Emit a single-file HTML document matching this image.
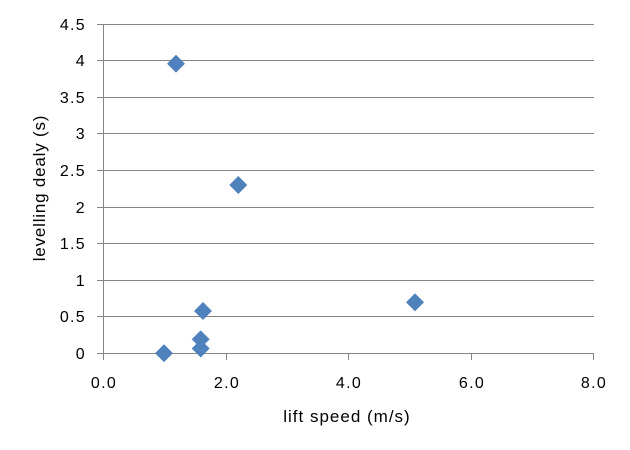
<!DOCTYPE html>
<html>
<head>
<meta charset="utf-8">
<style>
  html,body{margin:0;padding:0;background:#fff;}
  svg{display:block;}
  text{font-family:"Liberation Sans",Arial,sans-serif;fill:#000;}
</style>
</head>
<body>
<svg width="630" height="450" viewBox="0 0 630 450" xmlns="http://www.w3.org/2000/svg">
  <rect width="630" height="450" fill="#fff"/>
  <g stroke="#868686" stroke-width="1" fill="none">
    <line x1="97" y1="24.5" x2="594" y2="24.5"/>
    <line x1="97" y1="60.5" x2="594" y2="60.5"/>
    <line x1="97" y1="97.5" x2="594" y2="97.5"/>
    <line x1="97" y1="133.5" x2="594" y2="133.5"/>
    <line x1="97" y1="170.5" x2="594" y2="170.5"/>
    <line x1="97" y1="207.5" x2="594" y2="207.5"/>
    <line x1="97" y1="243.5" x2="594" y2="243.5"/>
    <line x1="97" y1="280.5" x2="594" y2="280.5"/>
    <line x1="97" y1="316.5" x2="594" y2="316.5"/>
    <line x1="97" y1="353.5" x2="594" y2="353.5"/>
    <line x1="103.5" y1="24" x2="103.5" y2="360"/>
    <line x1="226.5" y1="353" x2="226.5" y2="360"/>
    <line x1="348.5" y1="353" x2="348.5" y2="360"/>
    <line x1="471.5" y1="353" x2="471.5" y2="360"/>
    <line x1="593.5" y1="353" x2="593.5" y2="360"/>
  </g>

  <g font-size="16" text-anchor="end" letter-spacing="1.3">
    <text x="86" y="30">4.5</text>
    <text x="86" y="66">4</text>
    <text x="86" y="103">3.5</text>
    <text x="86" y="139">3</text>
    <text x="86" y="176">2.5</text>
    <text x="86" y="213">2</text>
    <text x="86" y="249">1.5</text>
    <text x="86" y="286">1</text>
    <text x="86" y="322">0.5</text>
    <text x="86" y="359">0</text>
  </g>

  <g font-size="16" text-anchor="middle" letter-spacing="1.3">
    <text x="104" y="388">0.0</text>
    <text x="227" y="388">2.0</text>
    <text x="349" y="388">4.0</text>
    <text x="472" y="388">6.0</text>
    <text x="594" y="388">8.0</text>
  </g>

  <text x="347" y="422" font-size="17" text-anchor="middle" letter-spacing="1">lift speed (m/s)</text>
  <text transform="translate(45,188) rotate(-90)" font-size="17" text-anchor="middle" letter-spacing="0.8">levelling dealy (s)</text>

  <g fill="#4F81BD" stroke="#4A7EBB" stroke-width="0.5">
    <path d="M176 55 L184.7 63.7 L176 72.4 L167.3 63.7 Z"/>
    <path d="M238.3 176.3 L247 185 L238.3 193.7 L229.6 185 Z"/>
    <path d="M164 344.5 L172.7 353.2 L164 361.9 L155.3 353.2 Z"/>
    <path d="M203 302.3 L211.7 311 L203 319.7 L194.3 311 Z"/>
    <path d="M200.7 339.8 L209.4 348.5 L200.7 357.2 L192 348.5 Z"/>
    <path d="M200.7 330.6 L209.4 339.3 L200.7 348 L192 339.3 Z"/>
    <path d="M415 293.6 L423.7 302.3 L415 311 L406.3 302.3 Z"/>
  </g>
</svg>
</body>
</html>
